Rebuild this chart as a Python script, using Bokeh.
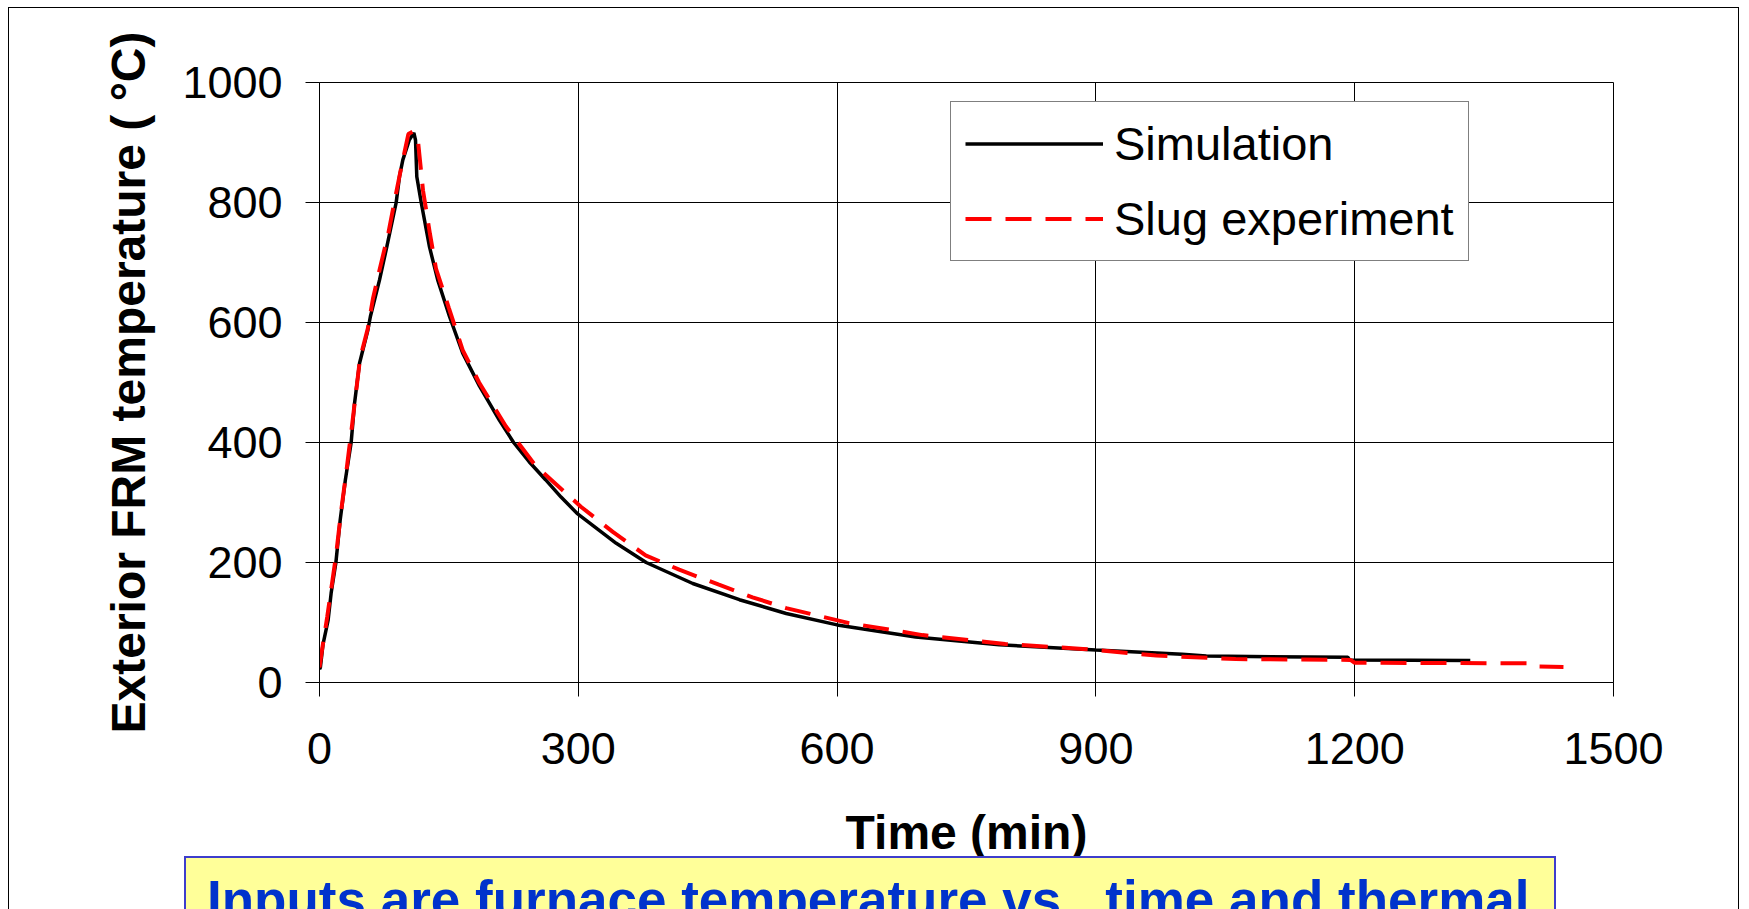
from bokeh.plotting import figure
from bokeh.models import Range1d, FixedTicker, Div
from bokeh.layouts import column
from bokeh.embed import file_html
from bokeh.resources import INLINE

# ---- data ----
sim_t = [0, 1, 4, 10, 13.5, 19, 24, 30, 36.7, 40.6, 46.4, 56, 59, 69.6, 78, 88.9, 92.7, 96.6, 104,
         109.4, 111.3, 112.8, 117.9, 127.5, 137, 150.7, 166, 185.5, 208.6, 225, 243, 262, 280, 298.5,
         344, 378.7, 432.7, 486.8, 541, 600, 691, 788, 900, 1000, 1028, 1192, 1194, 1334]
sim_T = [22, 25, 63, 104, 149, 200, 271, 338, 400, 465, 532, 587, 610, 671, 726, 800, 843, 871, 904,
         916, 904, 843, 800, 726, 671, 610, 549, 494, 437, 400, 368, 338, 309, 282,
         232, 200, 165, 138, 115, 96, 76, 63, 54, 47, 44, 42, 37.5, 36.5]

exp_t = [0, 3, 9, 14, 19, 25, 31, 37, 42, 47, 56, 62, 70, 80, 88, 95, 103, 108, 114, 120, 128, 135,
         150, 166, 185, 216, 250, 303, 340, 378, 417, 463, 502, 541, 614, 699, 795, 885, 970, 1062,
         1195, 1200, 1405, 1410, 1442]
exp_T = [25, 55, 110, 160, 210, 285, 350, 420, 480, 540, 590, 640, 690, 750, 810, 860, 914, 918, 905,
         820, 748, 690, 624, 554, 500, 427, 362, 293, 251, 212, 188, 163, 142, 124, 99, 79, 64, 56,
         45, 39, 37.6, 33, 32, 27, 26]

x_ticks = [0, 300, 600, 900, 1200, 1500]
y_ticks = [0, 200, 400, 600, 800, 1000]

x_title = "Time (min)"
y_title = "Exterior FRM temperature ( °C)"
sim_name = "Simulation"
exp_name = "Slug experiment"
note_text = "Inputs are furnace temperature vs.  time and thermal"

FONT = "Liberation Sans"

p = figure(width=1729, height=860, x_range=Range1d(0, 1500), y_range=Range1d(0, 1000),
           output_backend="svg", toolbar_location=None,
           min_border_left=310, min_border_right=125, min_border_top=74, min_border_bottom=186)
p.title.visible = False
p.background_fill_color = "white"
p.border_fill_color = "white"
p.outline_line_color = "black"
p.outline_line_width = 1

for ax, ticks in ((p.xaxis[0], x_ticks), (p.yaxis[0], y_ticks)):
    ax.ticker = FixedTicker(ticks=ticks)
    ax.major_tick_out = 14
    ax.major_tick_in = 0
    ax.minor_tick_line_color = None
    ax.axis_line_color = "black"
    ax.major_tick_line_color = "black"
    ax.major_label_text_font = FONT
    ax.major_label_text_font_size = "45px"
    ax.major_label_text_color = "black"
    ax.axis_label_text_font = FONT
    ax.axis_label_text_font_style = "bold"
    ax.axis_label_text_font_size = "48px"
    ax.axis_label_text_color = "black"

p.xaxis.axis_label = x_title
p.yaxis.axis_label = y_title
p.xaxis.major_label_standoff = 36
p.yaxis.major_label_standoff = 23
p.xaxis.axis_label_standoff = 39
p.yaxis.axis_label_standoff = 24

p.xgrid.ticker = FixedTicker(ticks=x_ticks)
p.ygrid.ticker = FixedTicker(ticks=y_ticks)
p.grid.grid_line_color = "black"
p.grid.grid_line_width = 1

p.line(sim_t, sim_T, line_color="black", line_width=3.5, legend_label=sim_name)
p.line(exp_t, exp_T, line_color="#FF0000", line_width=4, line_dash="26 14", legend_label=exp_name)

lg = p.legend[0]
lg.location = (631, 421)
lg.margin = 0
lg.padding = 14
lg.spacing = 20
lg.glyph_height = 55
lg.label_height = 55
lg.glyph_width = 138
lg.label_standoff = 11
lg.label_text_font = FONT
lg.label_text_font_size = "47px"
lg.label_text_color = "black"
lg.border_line_color = "black"
lg.border_line_width = 1
lg.background_fill_color = "white"
lg.background_fill_alpha = 1

note_html = (
    '<div style="box-sizing:border-box;width:1372px;height:60px;background:#FFFF99;'
    'border:2.5px solid #3D3DCC;padding:16px 0 0 21px;font-family:\'Liberation Sans\',Arial,sans-serif;'
    'font-weight:bold;font-size:53px;line-height:52px;color:#0033CC;white-space:pre;overflow:hidden;">'
    + note_text + '</div>'
)
note = Div(text=note_html, width=1372, height=53, margin=(-12, 0, 0, 175))

root = column(p, note, margin=(7, 0, 0, 8),
              styles={"border-top": "1.5px solid black", "border-left": "1.5px solid black",
                      "border-right": "1.5px solid black", "background": "white"})

open("out.html", "w").write(file_html(root, INLINE))
